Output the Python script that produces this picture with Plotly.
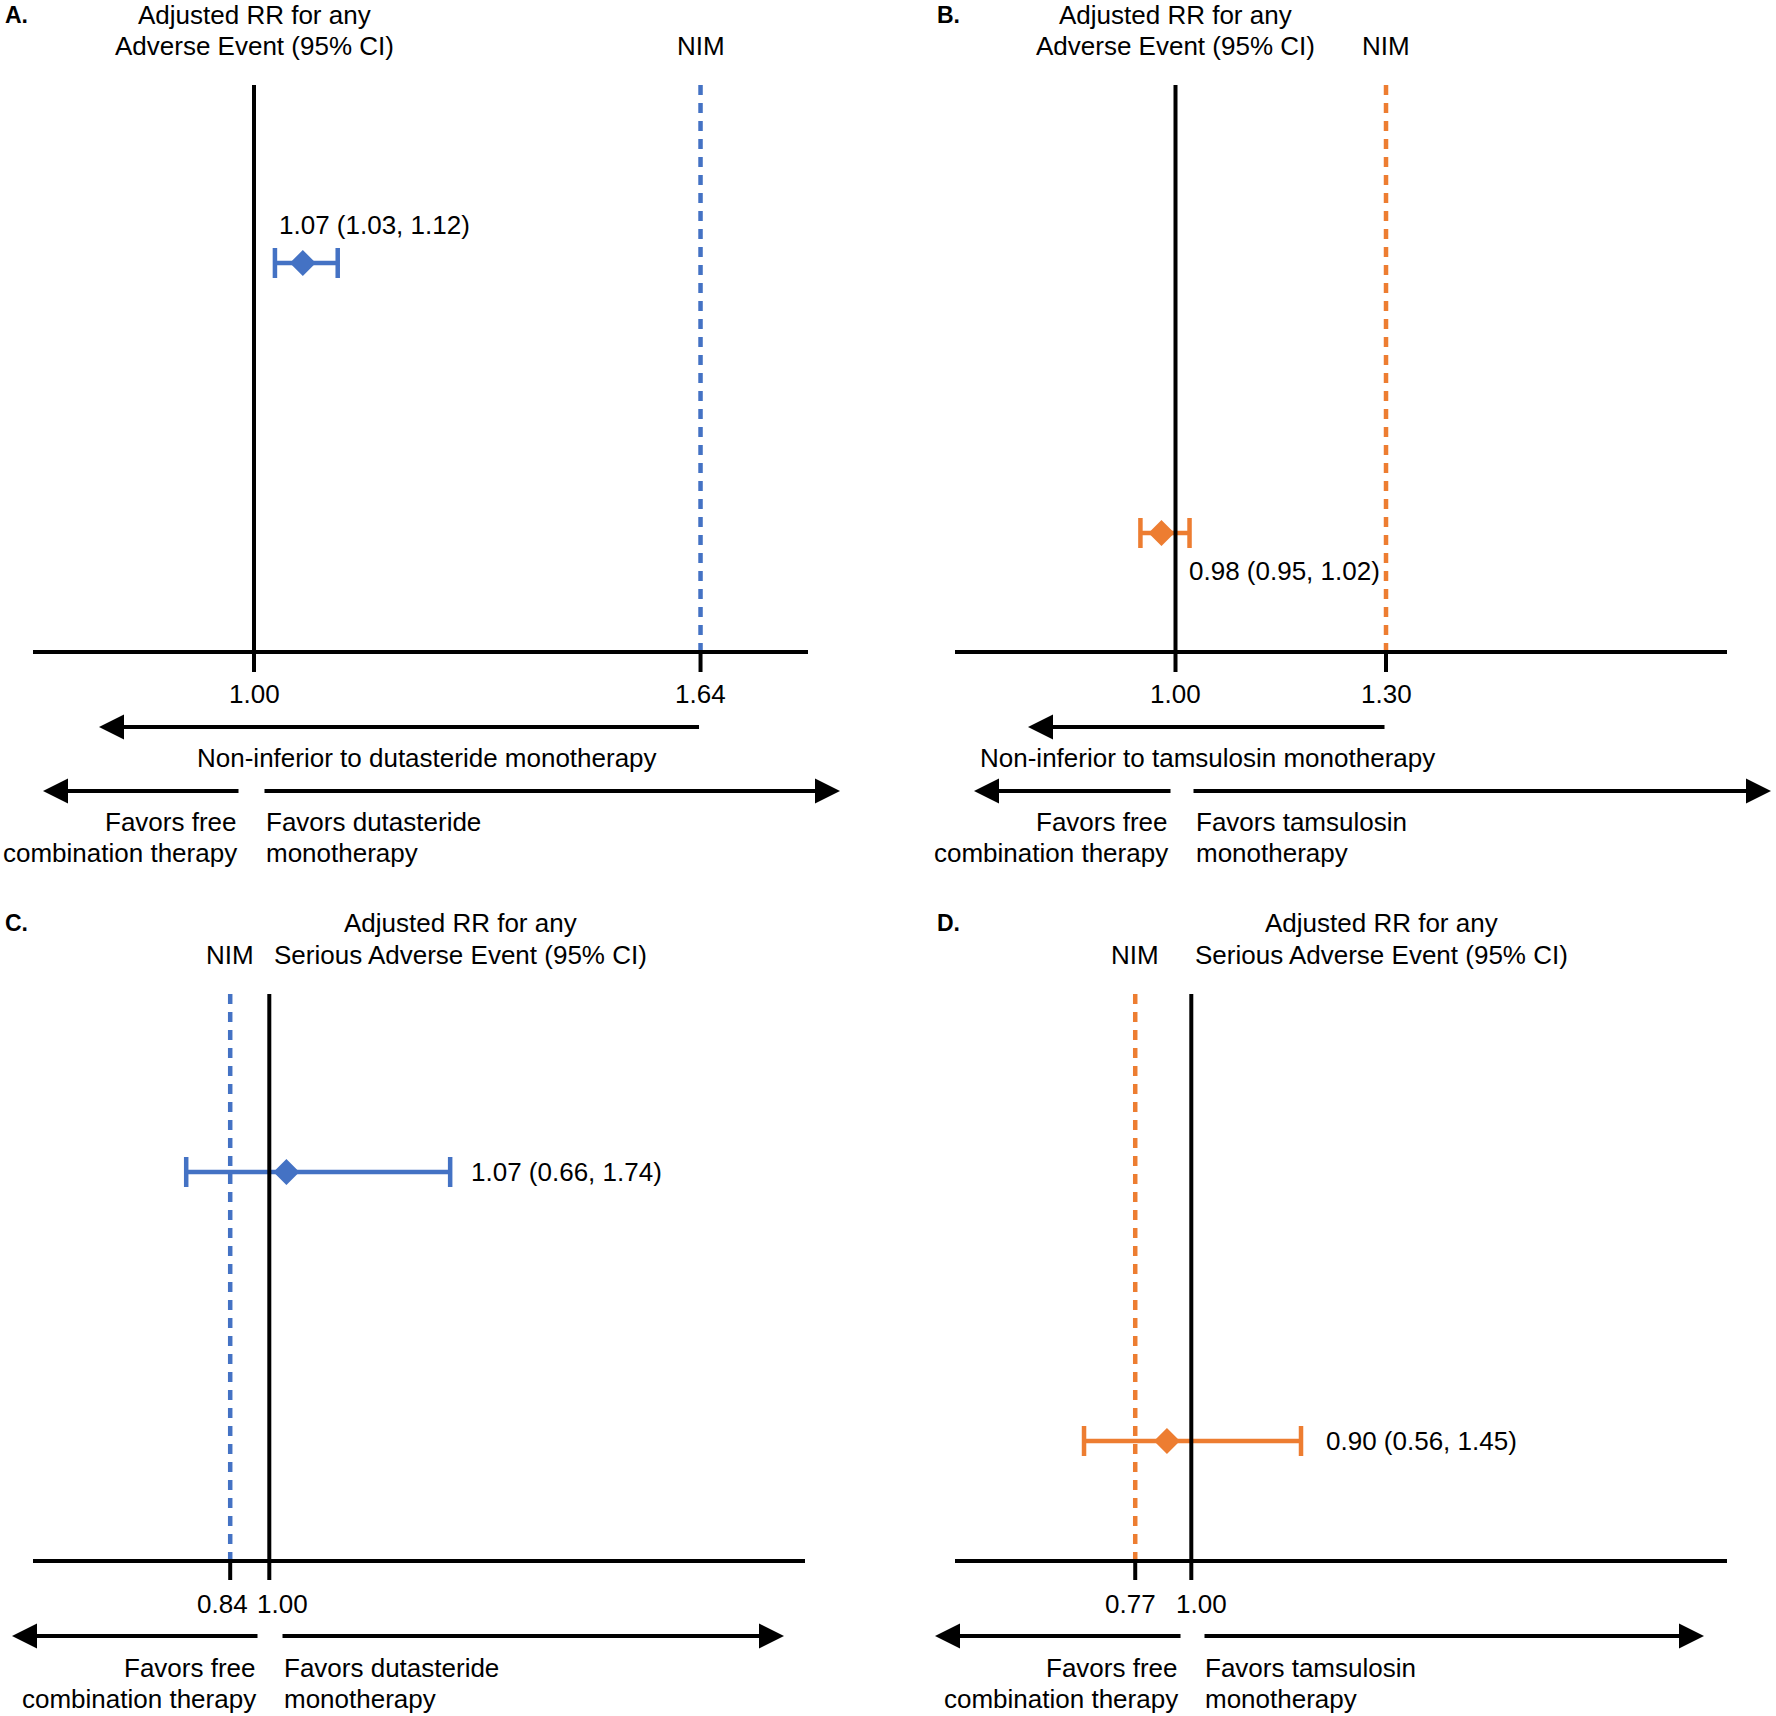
import plotly.graph_objects as go

W, H = 1776, 1716

# ---------------- data ----------------
panel_letters = ["A.", "B.", "C.", "D."]
header_line1 = ["Adjusted RR for any"] * 4
header_line2 = ["Adverse Event (95% CI)", "Adverse Event (95% CI)",
                "Serious Adverse Event (95% CI)", "Serious Adverse Event (95% CI)"]
comparator = ["dutasteride", "tamsulosin", "dutasteride", "tamsulosin"]
rr = [1.07, 0.98, 1.07, 0.90]
ci_low = [1.03, 0.95, 0.66, 0.56]
ci_high = [1.12, 1.02, 1.74, 1.45]
nim = [1.64, 1.30, 0.84, 0.77]
ref_value = 1.00
nim_tick_text = ["1.64", "1.30", "0.84", "0.77"]
ref_tick_text = "1.00"
series_colors = ["#4472C4", "#ED7D31", "#4472C4", "#ED7D31"]

# ---------------- layout constants (pixels) ----------------
FONT = "Liberation Sans, Arial, sans-serif"
FS = 26
SPLIT = 880  # pixel row separating top and bottom panels
panel_left = [0, 888, 0, 888]
one_px = [254.0, 1175.5, 269.3, 1191.3]      # where 1.00 falls
px_per_unit = [697.7, 701.7, 244.4, 243.8]
axis_ends = [(33, 808), (955, 1727), (33, 805), (955, 1727)]
row = [0, 0, 1, 1]
rows = [
    dict(h1=15, h2=46, vtop=85, axis=652, tickbot=672, ticklab=694,
         ni_arrow=727, ni_text=758, fav_arrow=791, fav1=822, fav2=853),
    dict(h1=923, h2=955, vtop=994, axis=1561, tickbot=1580, ticklab=1604,
         fav_arrow=1636, fav1=1668, fav2=1699),
]
point_y = [263, 533, 1172, 1441]
header_dx = [0, 0, 191, 190]
ni_text_x = [427, 1207]
ni_tip_px = [99, 1028]
fav_left = [(240, 43), (1172, 974), (259, 12), (1182, 935)]   # (start, tip)
fav_right = [(263, 840), (1192, 1771), (281, 784), (1203, 1704)]
fav_text_left_x = [239, 1170, 258, 1180]
fav_text_right_x = [264, 1194, 282, 1203]
tick_shift_nim = [0, 0, -8, -5]
tick_shift_ref = [0, 0, 13, 10]
letter_x = [3, 935, 3, 935]

xa = ["x", "x2", "x3", "x4"]
ya = ["y", "y", "y2", "y2"]
fig = go.Figure()

def px2data(i, px):
    return ref_value + (px - one_px[i]) / px_per_unit[i]

shapes = []
ann = []

def text(x, y, s, yref, xref="paper", xanchor="center", size=FS, bold=False, xshift=0):
    ann.append(dict(x=x, y=y, xref=xref, yref=yref, text=("<b>%s</b>" % s) if bold else s,
                    showarrow=False, xanchor=xanchor, yanchor="middle", xshift=xshift,
                    font=dict(family=FONT, size=size, color="black")))

def arrow(tip_px, start_px, y, yref):
    ann.append(dict(x=tip_px / W, y=y, xref="paper", yref=yref, text="",
                    showarrow=True, axref="pixel", ayref="pixel",
                    ax=start_px - tip_px, ay=0, arrowhead=2, arrowsize=1.25,
                    arrowwidth=4, arrowcolor="black", standoff=0, startstandoff=0))

for i in range(4):
    r = rows[row[i]]
    c = series_colors[i]
    yr = ya[i]
    # point estimate with CI
    fig.add_trace(go.Scatter(
        x=[rr[i]], y=[point_y[i]], xaxis=xa[i], yaxis=yr, mode="markers",
        marker=dict(symbol="diamond", size=20, color=c, line=dict(width=0)),
        error_x=dict(type="data", symmetric=False, array=[ci_high[i] - rr[i]],
                     arrayminus=[rr[i] - ci_low[i]], thickness=4.5, width=15, color=c),
        showlegend=False, hoverinfo="skip", cliponaxis=False))
    # reference line at 1.00
    shapes.append(dict(type="line", xref=xa[i], yref=yr, x0=ref_value, x1=ref_value,
                       y0=r["vtop"], y1=r["tickbot"], line=dict(color="black", width=4)))
    # NIM dashed line + tick
    shapes.append(dict(type="line", xref=xa[i], yref=yr, x0=nim[i], x1=nim[i],
                       y0=r["vtop"], y1=r["axis"], line=dict(color=c, width=4.5, dash="10px,8px")))
    shapes.append(dict(type="line", xref=xa[i], yref=yr, x0=nim[i], x1=nim[i],
                       y0=r["axis"], y1=r["tickbot"], line=dict(color="black", width=4)))
    # horizontal axis
    a0, a1 = axis_ends[i]
    shapes.append(dict(type="line", xref="paper", yref=yr, x0=a0 / W, x1=a1 / W,
                       y0=r["axis"], y1=r["axis"], line=dict(color="black", width=4)))
    # tick labels
    text(nim[i], r["ticklab"], nim_tick_text[i], yr, xref=xa[i], xshift=tick_shift_nim[i])
    text(ref_value, r["ticklab"], ref_tick_text, yr, xref=xa[i], xshift=tick_shift_ref[i])
    # headers
    hx = (one_px[i] + header_dx[i]) / W
    text(hx, r["h1"], header_line1[i], yr)
    text(hx, r["h2"], header_line2[i], yr)
    text(nim[i], r["h2"], "NIM", yr, xref=xa[i])
    text(letter_x[i] / W, r["h1"], panel_letters[i], yr, xanchor="left", size=23, bold=True)
    # estimate labels
    lab = "%.2f (%.2f, %.2f)" % (rr[i], ci_low[i], ci_high[i])
    if i == 0:
        text(ci_low[i], 225, lab, yr, xref=xa[i], xanchor="left", xshift=2)
    elif i == 1:
        text(ci_high[i], 571, lab, yr, xref=xa[i], xanchor="left", xshift=-3)
    else:
        text(ci_high[i], point_y[i], lab, yr, xref=xa[i], xanchor="left",
             xshift=19 if i == 2 else 23)
    # non-inferiority arrow (top panels)
    if row[i] == 0:
        ann.append(dict(x=px2data(i, ni_tip_px[i]), y=r["ni_arrow"], xref=xa[i], yref=yr,
                        text="", showarrow=True, axref=xa[i], ayref=yr,
                        ax=nim[i], ay=r["ni_arrow"], arrowhead=2, arrowsize=1.25,
                        arrowwidth=4, arrowcolor="black", standoff=0, startstandoff=0))
        text(ni_text_x[i] / W, r["ni_text"], "Non-inferior to %s monotherapy" % comparator[i], yr)
    # favors arrows
    arrow(fav_left[i][1], fav_left[i][0], r["fav_arrow"], yr)
    arrow(fav_right[i][1], fav_right[i][0], r["fav_arrow"], yr)
    text(fav_text_left_x[i] / W, r["fav1"], "Favors free", yr, xanchor="right")
    text(fav_text_left_x[i] / W, r["fav2"], "combination therapy", yr, xanchor="right")
    text(fav_text_right_x[i] / W, r["fav1"], "Favors %s" % comparator[i], yr, xanchor="left")
    text(fav_text_right_x[i] / W, r["fav2"], "monotherapy", yr, xanchor="left")

layout = dict(
    width=W, height=H, margin=dict(l=0, r=0, t=0, b=0),
    paper_bgcolor="white", plot_bgcolor="rgba(0,0,0,0)",
    shapes=shapes, annotations=ann, showlegend=False,
    yaxis=dict(domain=[1 - SPLIT / H, 1], range=[SPLIT, 0], visible=False, fixedrange=True),
    yaxis2=dict(domain=[0, 1 - SPLIT / H], range=[H, SPLIT], visible=False, fixedrange=True),
)
for i in range(4):
    key = "xaxis" if i == 0 else "xaxis%d" % (i + 1)
    L = panel_left[i]
    layout[key] = dict(
        domain=[L / W, (L + 888) / W],
        range=[px2data(i, L), px2data(i, L + 888)],
        visible=False, anchor=ya[i], fixedrange=True,
    )
fig.update_layout(**layout)

fig.write_html("out.html", config={"staticPlot": True},
               post_script="document.body.style.margin='0';document.body.style.overflow='hidden';")
